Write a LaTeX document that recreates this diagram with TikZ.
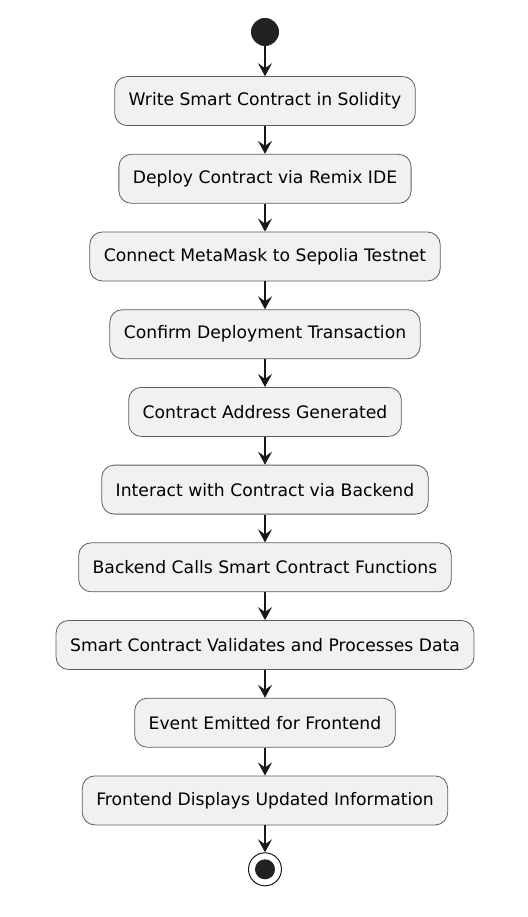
\documentclass[tikz,border=0pt]{standalone}
\usepackage{fontspec}
\setmainfont{DejaVu Sans}
\usetikzlibrary{positioning,arrows.meta}
\definecolor{boxfill}{HTML}{F1F1F1}
\definecolor{ink}{HTML}{181818}
\definecolor{dot}{HTML}{222222}
\tikzset{
	action/.style={draw=ink!70, line width=0.8pt, fill=boxfill, rounded corners=12.5pt,
		minimum height=49pt, inner xsep=14pt, font=\fontsize{17.2}{20}\selectfont},
	flow/.style={draw=ink, line width=1.2pt, -{Stealth[length=13pt,width=14pt,inset=5pt]}},
	startdot/.style={circle, fill=dot, minimum size=28pt, inner sep=0pt},
	enddot/.style={circle, draw=ink, line width=1pt, fill=white, minimum size=33pt, inner sep=0pt}
}
\begin{document}
\begin{tikzpicture}[node distance=27.9pt]
		\useasboundingbox (0,0) rectangle (527pt,-917pt);
		\node[startdot] (start) at (265pt,-32pt) {};
		\node[action, below=30pt of start] (write) {Write Smart Contract in Solidity};
		\node[action, below=of write] (deploy) {Deploy Contract via Remix IDE};
		\node[action, below=of deploy] (connect) {Connect MetaMask to Sepolia Testnet};
		\node[action, below=of connect] (confirm) {Confirm Deployment Transaction};
		\node[action, below=of confirm] (address) {Contract Address Generated};
		\node[action, below=of address] (interact) {Interact with Contract via Backend};
		\node[action, below=of interact] (calls) {Backend Calls Smart Contract Functions};
		\node[action, below=of calls] (validate) {Smart Contract Validates and Processes Data};
		\node[action, below=of validate] (event) {Event Emitted for Frontend};
		\node[action, below=of event] (display) {Frontend Displays Updated Information};
		\node[enddot, below=27pt of display] (stop) {};
		\fill[dot] (stop) circle (10pt);
		\draw[flow] (start) -- (write);
		\draw[flow] (write) -- (deploy);
		\draw[flow] (deploy) -- (connect);
		\draw[flow] (connect) -- (confirm);
		\draw[flow] (confirm) -- (address);
		\draw[flow] (address) -- (interact);
		\draw[flow] (interact) -- (calls);
		\draw[flow] (calls) -- (validate);
		\draw[flow] (validate) -- (event);
		\draw[flow] (event) -- (display);
		\draw[flow] (display) -- (stop);
		\end{tikzpicture}
\end{document}
